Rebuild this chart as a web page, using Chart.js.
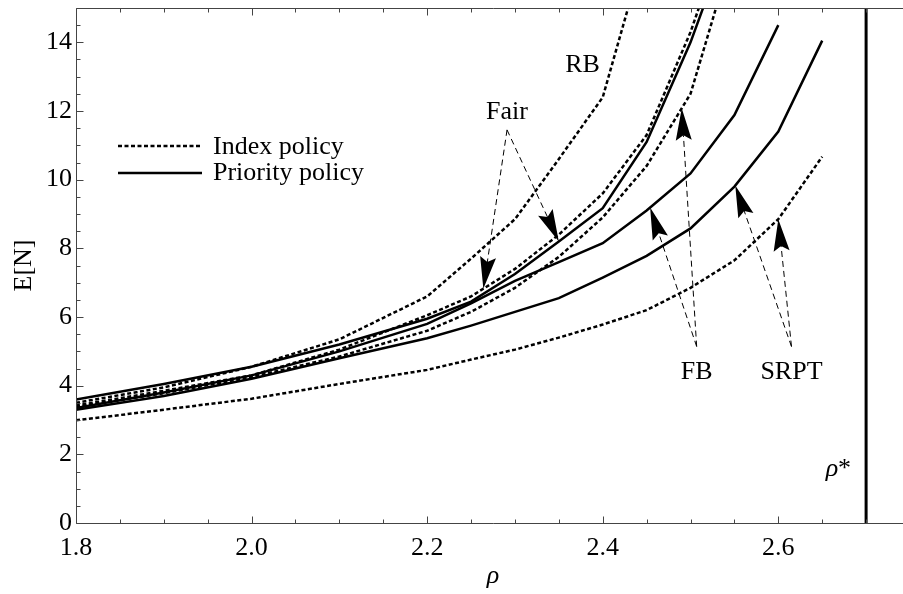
<!DOCTYPE html>
<html>
<head>
<meta charset="utf-8">
<script src="https://cdn.jsdelivr.net/npm/chart.js@4.4.0/dist/chart.umd.min.js"></script>
<style>
  html, body { margin: 0; padding: 0; background: #fff; overflow: hidden; }
  canvas { display: block; }
</style>
</head>
<body>
<canvas id="chart" width="914" height="594"></canvas>
<script>
// load rho on x, mean number of jobs E[N] on y
const rho = [1.8, 1.9, 2.0, 2.1, 2.2, 2.25, 2.3, 2.35, 2.4, 2.45, 2.5, 2.55, 2.6, 2.65];

// index policy (dotted)
const rbIndex   = [3.5, 3.95, 4.55, 5.35, 6.6, 7.7, 8.85, 10.6, 12.4, 16.9, null, null, null, null];
const fairIndex = [3.42, 3.85, 4.3, 5.05, 6.05, 6.6, 7.4, 8.4, 9.6, 11.3, 14.3, 18.0, null, null];
const fbIndex   = [3.38, 3.78, 4.25, 4.85, 5.6, 6.15, 6.85, 7.75, 8.9, 10.4, 12.5, 16.8, null, null];
const srptIndex = [2.99, 3.3, 3.62, 4.05, 4.46, 4.76, 5.05, 5.4, 5.78, 6.2, 6.85, 7.65, 8.85, 10.67];

// priority policy (solid)
const fairPriority = [3.6, 4.05, 4.55, 5.2, 5.95, 6.45, 7.25, 8.2, 9.17, 11.1, 14.0, 17.5, null, null];
const fbPriority   = [3.35, 3.8, 4.3, 5.0, 5.8, 6.4, 7.05, 7.6, 8.15, 9.1, 10.18, 11.88, 14.5, null];
const srptPriority = [3.3, 3.7, 4.2, 4.8, 5.38, 5.75, 6.15, 6.55, 7.15, 7.78, 8.58, 9.8, 11.4, 14.05];

const rhoStar = 2.7;

const xTicks = [1.8, 2.0, 2.2, 2.4, 2.6];
const yTicks = [0, 2, 4, 6, 8, 10, 12, 14];

// curve labels, in data units
const notes = [
  { text: 'RB',   x: 2.377, y: 13.34 },
  { text: 'Fair', x: 2.291, y: 11.97 },
  { text: 'FB',   x: 2.507, y: 4.40 },
  { text: 'SRPT', x: 2.615, y: 4.40 }
];

// dashed pointers from a label to a curve at a given rho
const pointers = [
  { from: [2.291, 11.45], curve: fairIndex,    at: 2.264 },
  { from: [2.291, 11.45], curve: fairPriority, at: 2.350 },
  { from: [2.507, 5.14],  curve: fbPriority,   at: 2.454 },
  { from: [2.507, 5.14],  curve: fbIndex,      at: 2.490 },
  { from: [2.615, 5.14],  curve: srptPriority, at: 2.551 },
  { from: [2.615, 5.14],  curve: srptIndex,    at: 2.600 }
];

const SERIF = '"Liberation Serif", "DejaVu Serif", serif';
const DOTS = [4, 2.5];

function valueAt(ys, x) {
  for (let i = 0; i < rho.length - 1; i++) {
    if (x >= rho[i] && x <= rho[i + 1] && ys[i + 1] != null) {
      const t = (x - rho[i]) / (rho[i + 1] - rho[i]);
      return ys[i] + t * (ys[i + 1] - ys[i]);
    }
  }
  return null;
}

function line(data, dashed) {
  return {
    data: data,
    borderColor: '#000',
    borderWidth: 2.5,
    borderDash: dashed ? DOTS : [],
    pointRadius: 0,
    tension: 0,
    fill: false,
    clip: 0
  };
}

function drawArrow(ctx, x0, y0, x1, y1) {
  const ang = Math.atan2(y1 - y0, x1 - x0);
  const len = 32, half = 8, notch = 27;
  ctx.save();
  ctx.strokeStyle = '#000';
  ctx.fillStyle = '#000';
  ctx.lineWidth = 1;
  ctx.setLineDash([6, 4]);
  ctx.beginPath();
  ctx.moveTo(x0, y0);
  ctx.lineTo(x1 - Math.cos(ang) * notch, y1 - Math.sin(ang) * notch);
  ctx.stroke();
  ctx.setLineDash([]);
  ctx.translate(x1, y1);
  ctx.rotate(ang);
  ctx.beginPath();
  ctx.moveTo(0, 0);
  ctx.lineTo(-len, -half);
  ctx.lineTo(-notch, 0);
  ctx.lineTo(-len, half);
  ctx.closePath();
  ctx.fill();
  ctx.restore();
}

// frame with inward ticks, labels, pointers and the little legend
const decorations = {
  id: 'decorations',
  afterDatasetsDraw(chart) {
    const ctx = chart.ctx;
    const a = chart.chartArea;
    const xs = chart.scales.x, ys = chart.scales.y;
    const L = Math.round(a.left) + 0.5, T = Math.round(a.top) + 0.5, B = Math.round(a.bottom) + 0.5;

    ctx.save();
    ctx.strokeStyle = '#444';
    ctx.lineWidth = 1;
    ctx.beginPath();
    ctx.moveTo(a.right, T); ctx.lineTo(L, T); ctx.lineTo(L, B); ctx.lineTo(a.right, B);
    for (let i = 0; i < 20; i++) {
      const px = Math.round(xs.getPixelForValue(1.8 + i * 0.05)) + 0.5;
      const len = i % 4 === 0 ? 7 : 4;
      ctx.moveTo(px, B); ctx.lineTo(px, B - len);
      ctx.moveTo(px, T); ctx.lineTo(px, T + len);
    }
    for (let i = 0; i <= 30; i++) {
      const py = Math.round(ys.getPixelForValue(i * 0.5)) + 0.5;
      const len = i % 4 === 0 ? 7 : 4;
      ctx.moveTo(L, py); ctx.lineTo(L + len, py);
    }
    ctx.stroke();
    ctx.restore();

    // pointers
    pointers.forEach(p => {
      const y = valueAt(p.curve, p.at);
      drawArrow(ctx, xs.getPixelForValue(p.from[0]), ys.getPixelForValue(p.from[1]),
        xs.getPixelForValue(p.at), ys.getPixelForValue(y));
    });

    ctx.save();
    ctx.fillStyle = '#000';
    ctx.font = '26px ' + SERIF;
    ctx.textAlign = 'center';
    ctx.textBaseline = 'middle';
    notes.forEach(n => {
      ctx.fillText(n.text, xs.getPixelForValue(n.x), ys.getPixelForValue(n.y));
    });

    // rho* next to the stability line
    const sx = xs.getPixelForValue(rhoStar) - 15;
    const sy = ys.getPixelForValue(1.38);
    ctx.textAlign = 'right';
    ctx.textBaseline = 'alphabetic';
    ctx.font = '26px ' + SERIF;
    const starW = ctx.measureText('*').width;
    ctx.fillText('*', sx, sy);
    ctx.font = 'italic 26px ' + SERIF;
    ctx.fillText('ρ', sx - starW, sy);

    // legend
    ctx.textAlign = 'left';
    ctx.font = '26px ' + SERIF;
    ctx.lineWidth = 2.5;
    ctx.strokeStyle = '#000';
    ctx.setLineDash(DOTS);
    ctx.beginPath(); ctx.moveTo(118, 146); ctx.lineTo(200, 146); ctx.stroke();
    ctx.setLineDash([]);
    ctx.beginPath(); ctx.moveTo(118, 173); ctx.lineTo(202, 173); ctx.stroke();
    ctx.fillText('Index policy', 213, 154);
    ctx.fillText('Priority policy', 213, 180);
    ctx.restore();
  }
};

const starLine = line([{ x: rhoStar, y: 0 }, { x: rhoStar, y: 15 }], false);
starLine.borderWidth = 3;

new Chart(document.getElementById('chart'), {
  type: 'line',
  data: {
    labels: rho,
    datasets: [
      line(rbIndex, true),
      line(fairIndex, true),
      line(fbIndex, true),
      line(srptIndex, true),
      line(fairPriority, false),
      line(fbPriority, false),
      line(srptPriority, false),
      starLine
    ]
  },
  options: {
    responsive: false,
    animation: false,
    devicePixelRatio: 1,
    layout: { padding: { top: 8, right: 4, left: 0, bottom: 0 } },
    plugins: { legend: { display: false }, tooltip: { enabled: false } },
    scales: {
      x: {
        type: 'linear',
        min: 1.8,
        max: 2.75,
        afterFit(s) { s.height = 71; s.paddingLeft = 0; s.paddingRight = 0; },
        afterBuildTicks(s) { s.ticks = xTicks.map(v => ({ value: v })); },
        grid: { display: false, drawTicks: false },
        border: { display: false },
        ticks: {
          padding: 10, color: '#000', maxRotation: 0, autoSkip: false,
          font: { family: SERIF, size: 26 },
          callback: v => v.toFixed(1)
        },
        title: {
          display: true, text: 'ρ', color: '#000',
          font: { family: SERIF, size: 26, style: 'italic' },
          padding: { top: 0, bottom: 2 }
        }
      },
      y: {
        min: 0,
        max: 15,
        afterFit(s) { s.width = 76; s.paddingTop = 0; s.paddingBottom = 0; },
        afterBuildTicks(s) { s.ticks = yTicks.map(v => ({ value: v })); },
        grid: { display: false, drawTicks: false },
        border: { display: false },
        ticks: { padding: 4, color: '#000', font: { family: SERIF, size: 26 } },
        title: {
          display: true, text: 'E[N]', color: '#000',
          font: { family: SERIF, size: 26 },
          padding: { top: 9, bottom: 0 }
        }
      }
    }
  },
  plugins: [decorations]
});
</script>
</body>
</html>
